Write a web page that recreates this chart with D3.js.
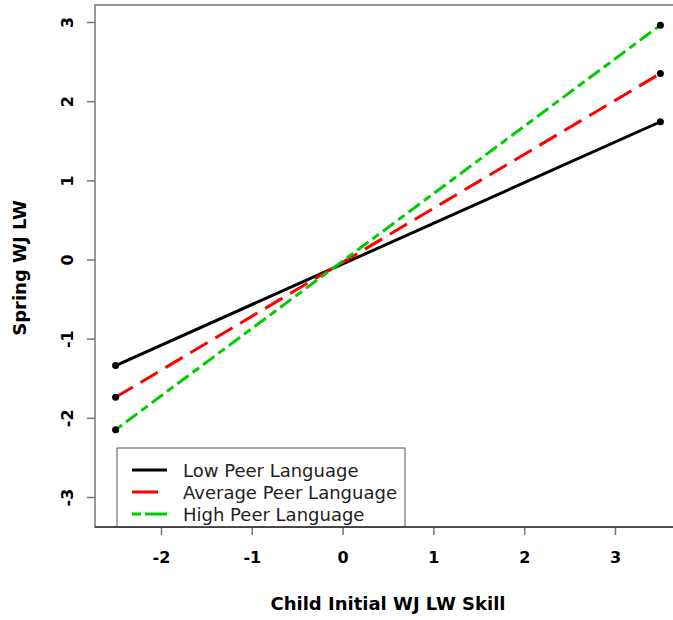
<!DOCTYPE html>
<html><head><meta charset="utf-8">
<script src="https://cdn.jsdelivr.net/npm/d3@7"></script>
<style>body{margin:0;background:#fff}svg{display:block}</style>
</head><body>
<svg id="c" width="673" height="620"></svg>
<script>
const xEnds = [-2.5, 3.5];
const seriesNames = ["Low Peer Language", "Average Peer Language", "High Peer Language"];
const lowVals = [-1.34, 1.74];
const avgVals = [-1.74, 2.35];
const highVals = [-2.15, 2.96];
const xTicks = [-2, -1, 0, 1, 2, 3];
const yTicks = [-3, -2, -1, 0, 1, 2, 3];
const colors = ["#000000", "#ff0000", "#00cd00"];
const dashes = [null, "20,9", "8,5,14,5"];

const svg = d3.select("#c");
const x = d3.scaleLinear().domain([-2, 3]).range([161, 615]);
const y = d3.scaleLinear().domain([-3, 3]).range([497, 22]);
const pLeft = 95, pTop = 5, pBottom = 527, pRight = 690;
const fmt = d => String(d);

// plot box
svg.append("rect").attr("x", pLeft).attr("y", pTop).attr("width", pRight-pLeft).attr("height", pBottom-pTop)
  .attr("fill", "none").attr("stroke", "#777").attr("stroke-width", 1.5);

// axes
const xa = svg.append("g").attr("transform", `translate(0,${pBottom})`)
  .call(d3.axisBottom(x).tickValues(xTicks).tickSize(8).tickPadding(17).tickFormat(fmt));
xa.select(".domain").remove();
xa.selectAll("line").attr("stroke", "#777").attr("stroke-width", 1.5);
xa.selectAll("text").attr("font-family", "DejaVu Sans").attr("font-weight", "bold").attr("font-size", 16).attr("fill", "#000");

const ya = svg.append("g").attr("transform", `translate(${pLeft},0)`)
  .call(d3.axisLeft(y).tickValues(yTicks).tickSize(8).tickFormat(fmt));
ya.select(".domain").remove();
ya.selectAll("line").attr("stroke", "#777").attr("stroke-width", 1.5);
ya.selectAll(".tick text").attr("font-family", "DejaVu Sans").attr("font-weight", "bold").attr("font-size", 16).attr("fill", "#000")
  .attr("x", 0).attr("dy", null).attr("text-anchor", "middle")
  .attr("transform", "translate(-28,0) rotate(-90)").attr("dominant-baseline", "central");

// titles
svg.append("text").attr("x", 388).attr("y", 610).attr("text-anchor", "middle")
  .attr("font-family", "DejaVu Sans").attr("font-weight", "bold").attr("font-size", 18).text("Child Initial WJ LW Skill");
svg.append("text").attr("transform", "translate(26,268) rotate(-90)").attr("text-anchor", "middle")
  .attr("font-family", "DejaVu Sans").attr("font-weight", "bold").attr("font-size", 18).text("Spring WJ LW");

// lines
const allVals = [lowVals, avgVals, highVals];
const line = d3.line().x((d, i) => x(xEnds[i])).y(d => y(d));
allVals.forEach((vals, k) => {
  svg.append("path").datum(vals).attr("d", line).attr("fill", "none")
    .attr("stroke", colors[k]).attr("stroke-width", 3)
    .attr("stroke-dasharray", dashes[k]);
});
allVals.forEach(vals => {
  svg.selectAll(null).data(vals).enter().append("circle")
    .attr("cx", (d, i) => x(xEnds[i])).attr("cy", d => y(d)).attr("r", 3.5).attr("fill", "#000");
});

// legend
const lg = svg.append("g");
lg.append("rect").attr("x", 117).attr("y", 448).attr("width", 288).attr("height", 79)
  .attr("fill", "#fff").attr("stroke", "#555").attr("stroke-width", 1);
seriesNames.forEach((n, k) => {
  const yy = 470 + k * 22;
  lg.append("line").attr("x1", 132).attr("x2", 167).attr("y1", yy).attr("y2", yy)
    .attr("stroke", colors[k]).attr("stroke-width", 3).attr("stroke-dasharray", k === 1 ? "26,20" : (k === 2 ? "9,4,30" : null));
  lg.append("text").attr("x", 183).attr("y", yy).attr("dominant-baseline", "central")
    .attr("font-family", "DejaVu Sans").attr("font-size", 18).attr("fill", "#222").text(n);
});
// bottom axis line over legend
svg.append("line").attr("x1", pLeft).attr("x2", pRight).attr("y1", pBottom).attr("y2", pBottom).attr("stroke", "#333").attr("stroke-width", 1.5);
</script>
</body></html>
